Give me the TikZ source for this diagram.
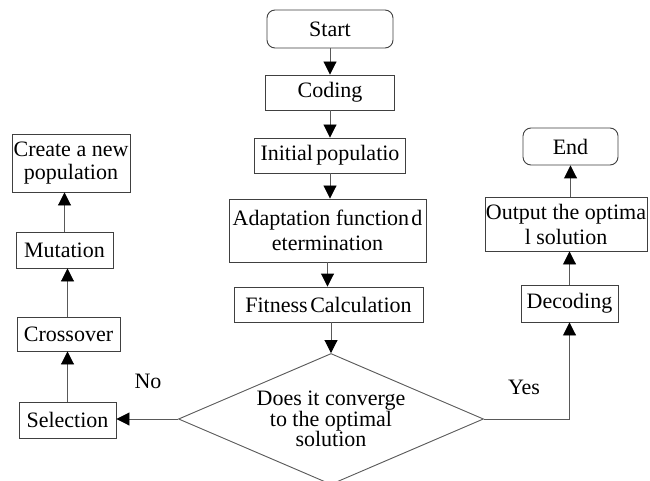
\documentclass[tikz,border=0pt]{standalone}
\usepackage{fontspec}
\setmainfont{Liberation Serif}
\usetikzlibrary{arrows.meta,shapes.geometric}
\begin{document}
\begin{tikzpicture}[x=1pt,y=-1pt,
  box/.style={draw=black!75,line width=0.9pt,inner sep=0pt,align=center,
    font=\fontsize{22}{25}\selectfont},
  rbox/.style={box,rounded corners=8pt},
  conn/.style={draw=black!65,line width=0.9pt,-{Triangle[length=13pt,width=13pt,color=black,fill=black]}},
  lbl/.style={font=\fontsize{22}{25}\selectfont,inner sep=0pt}]
\useasboundingbox[fill=white] (0,0) rectangle (650,481);
% main column
\node[rbox,minimum width=126pt,minimum height=38pt] (start) at (330,29) {Start};
\node[box,minimum width=129pt,minimum height=35pt] (coding) at (330,92.5) {Coding};
\node[box,minimum width=151pt,minimum height=35pt] (init) at (330,155.5) {Initial\hspace{0.15em}populatio};
\node[box,minimum width=197pt,minimum height=63pt] (adapt) at (327.5,230.5) {Adaptation function\hspace{0.1em}d\\etermination};
\node[box,minimum width=189pt,minimum height=35pt] (fit) at (328.5,304.5) {Fitness\hspace{0.12em}Calculation};
\node[draw=black!65,line width=0.9pt,shape=diamond,aspect=2.33,inner sep=0pt,
  minimum width=305pt,minimum height=131pt,align=center,
  font=\fontsize{22}{20}\selectfont] (dia) at (331,419) {Does it converge\\to the optimal\\solution};
% left column
\node[box,minimum width=97pt,minimum height=36pt] (sel) at (67.5,420) {Selection};
\node[box,minimum width=103pt,minimum height=34pt] (cross) at (68.5,334) {Crossover};
\node[box,minimum width=97pt,minimum height=36pt] (mut) at (64.5,250) {Mutation};
\node[box,minimum width=118pt,minimum height=58pt,font=\fontsize{22}{23}\selectfont] (create) at (71,163) {Create a new\\population};
% right column
\node[box,minimum width=97pt,minimum height=37pt] (dec) at (569.5,303.5) {Decoding};
\node[box,minimum width=162pt,minimum height=54pt] (out) at (566,224) {Output the optima\\l solution};
\node[rbox,minimum width=95pt,minimum height=37pt] (end) at (570.5,146.5) {End};
% labels
\node[lbl] (no) at (148,381) {No};
\node[lbl] (yes) at (524,387) {Yes};
% connectors
\draw[conn] (start.south) -- (start.south |- coding.north);
\draw[conn] (coding.south) -- (coding.south |- init.north);
\draw[conn] (init.south) -- (init.south |- adapt.north);
\draw[conn] (adapt.south) -- (adapt.south |- fit.north);
\draw[conn] (fit.south -| dia.north) -- (dia.north);
\draw[conn] (dia.west) -- (dia.west -| sel.east);
\draw[conn] (sel.north) -- (sel.north |- cross.south);
\draw[conn] (cross.south -| sel.north) ++(0,-34) coordinate (c1) -- (c1 |- mut.south);
\draw[conn] (mut.north) -- (mut.north |- create.south);
\draw[conn] (dia.east) -| (dec.south);
\draw[conn] (dec.north) -- (dec.north |- out.south);
\draw[conn] (out.north -| end.south) -- (end.south);
\end{tikzpicture}
\end{document}
